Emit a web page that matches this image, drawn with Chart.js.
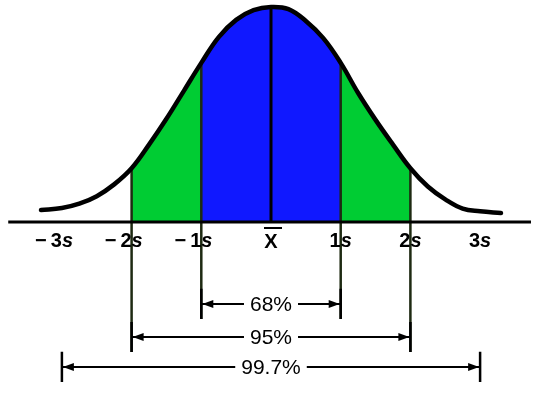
<!DOCTYPE html>
<html>
<head>
<meta charset="utf-8">
<script src="https://cdn.jsdelivr.net/npm/chart.js@4/dist/chart.umd.min.js"></script>
<style>
  body { margin: 0; background: #fff; }
  canvas { display: block; }
</style>
</head>
<body>
<canvas id="bell" width="540" height="400"></canvas>
<script>
// curve: x in units of s, height relative to the peak (=100)
const curveX = [-3.3, -3.0, -2.75, -2.5, -2.25, -2.0, -1.75, -1.5, -1.25, -1.0, -0.75, -0.5, -0.25, 0,
                0.25, 0.5, 0.75, 1.0, 1.25, 1.5, 1.75, 2.0, 2.25, 2.5, 2.75, 3.0, 3.3];
const curveY = [5.6, 6.5, 8.5, 12, 17.5, 25, 36, 48, 61, 74, 86, 94, 98.5, 100,
                99, 93.5, 85.5, 74, 60, 47.5, 36, 25, 16.5, 10.5, 6.2, 5, 4.2];

const tickValues = [-3, -2, -1, 0, 1, 2, 3];
const tickLabels = ['−3s', '−2s', '−1s', 'X\u0304', '1s', '2s', '3s'];

const spanLabels = ['68%', '95%', '99.7%'];
const spanFrom = [-1, -2, -3];
const spanTo = [1, 2, 3];
const spanLevel = [-38.1, -53.5, -67.4];

const connectorAt = [-2, -1, 1, 2];
const axisRange = [-3.77, 3.73];
const barHalf = 7;

function curvePts(lo, hi) {
  return curveX.map((x, i) => ({ x: x, y: curveY[i] })).filter(p => p.x >= lo && p.x <= hi);
}
function heightAt(v) { return curveY[curveX.indexOf(v)]; }

const datasets = [];

// bell curve outline
datasets.push({
  data: curvePts(-10, 10), borderColor: '#000', borderWidth: 4.5,
  tension: 0.4, borderCapStyle: 'round', order: 1
});
// axis line
datasets.push({
  data: [{ x: axisRange[0], y: 0 }, { x: axisRange[1], y: 0 }],
  borderColor: '#000', borderWidth: 3, order: 0
});
// mean line
datasets.push({
  data: [{ x: 0, y: 0 }, { x: 0, y: heightAt(0) }],
  borderColor: '#000', borderWidth: 3, order: 2
});
// connectors from the curve down to the span bars
connectorAt.forEach(v => {
  const k = spanFrom.indexOf(v) >= 0 ? spanFrom.indexOf(v) : spanTo.indexOf(v);
  datasets.push({
    data: [{ x: v, y: heightAt(v) }, { x: v, y: spanLevel[k] - barHalf }],
    borderColor: '#1e2a12', borderWidth: 2.5, order: 3
  });
});
// span arrows and end bars
spanLabels.forEach((lab, k) => {
  datasets.push({
    data: [{ x: spanFrom[k], y: spanLevel[k] }, { x: spanTo[k], y: spanLevel[k] }],
    borderColor: '#000', borderWidth: 2, order: 2
  });
  [spanFrom[k], spanTo[k]].forEach(v => {
    datasets.push({
      data: [{ x: v, y: spanLevel[k] + barHalf }, { x: v, y: spanLevel[k] - barHalf }],
      borderColor: '#000', borderWidth: 2.5, order: 2
    });
  });
});
// shaded bands: green ±2s, blue ±1s
datasets.push({
  data: curvePts(-2, 2), borderWidth: 0, tension: 0.4,
  fill: 'origin', backgroundColor: 'rgb(0,204,51)', order: 6
});
datasets.push({
  data: curvePts(-1, 1), borderWidth: 0, tension: 0.4,
  fill: 'origin', backgroundColor: 'rgb(16,24,255)', order: 5
});

const overlay = {
  id: 'overlay',
  afterDatasetsDraw(chart) {
    const { ctx, scales: { x, y } } = chart;
    const base = y.getPixelForValue(0);
    ctx.save();
    ctx.fillStyle = '#000';
    ctx.textBaseline = 'middle';
    ctx.textAlign = 'left';

    // tick labels under the axis
    const f = 'bold 20px "Liberation Sans"';
    const fi = 'italic bold 20px "Liberation Sans"';
    tickValues.forEach((v, i) => {
      const px = x.getPixelForValue(v);
      const py = base + 19;
      const lab = tickLabels[i];
      if (lab.indexOf('\u0304') >= 0) {
        const letter = lab.replace('\u0304', '');
        ctx.font = f;
        const w = ctx.measureText(letter).width;
        ctx.fillText(letter, px - w / 2, py + 1);
        ctx.fillRect(px - 7, py - 14, 18, 2);
        return;
      }
      const neg = lab.startsWith('−');
      const num = lab.replace('−', '').replace('s', '');
      ctx.font = f;
      const wn = ctx.measureText(num).width;
      ctx.font = fi;
      const ws = ctx.measureText('s').width;
      const left = px - (wn + ws) / 2;
      ctx.font = f;
      ctx.fillText(num, left, py);
      if (neg) {
        const wm = ctx.measureText('−').width;
        ctx.fillText('−', left - wm - 4, py);
      }
      ctx.font = fi;
      ctx.fillText('s', left + wn, py);
    });

    // span labels and arrowheads
    ctx.font = '21px "Liberation Sans"';
    spanLabels.forEach((lab, k) => {
      const xl = x.getPixelForValue(spanFrom[k]);
      const xr = x.getPixelForValue(spanTo[k]);
      const py = y.getPixelForValue(spanLevel[k]);
      const cx = (xl + xr) / 2;
      const w = ctx.measureText(lab).width;
      ctx.fillStyle = '#fff';
      ctx.fillRect(cx - w / 2 - 6, py - 9, w + 12, 18);
      ctx.fillStyle = '#000';
      ctx.fillText(lab, cx - w / 2, py + 1);
      [[xl + 1, 1], [xr - 1, -1]].forEach(([tx, dir]) => {
        ctx.beginPath();
        ctx.moveTo(tx, py);
        ctx.lineTo(tx + dir * 11, py - 4);
        ctx.lineTo(tx + dir * 11, py + 4);
        ctx.closePath();
        ctx.fill();
      });
    });
    ctx.restore();
  }
};

new Chart(document.getElementById('bell'), {
  type: 'line',
  data: { datasets: datasets },
  options: {
    responsive: false,
    animation: false,
    layout: { padding: 0 },
    elements: { point: { radius: 0 }, line: { tension: 0 } },
    plugins: { legend: { display: false }, tooltip: { enabled: false } },
    scales: {
      x: { type: 'linear', display: false, min: -271 / 69.7, max: 269 / 69.7 },
      y: { type: 'linear', display: false, min: -178 / 2.15, max: 222 / 2.15 }
    }
  },
  plugins: [overlay]
});
</script>
</body>
</html>
